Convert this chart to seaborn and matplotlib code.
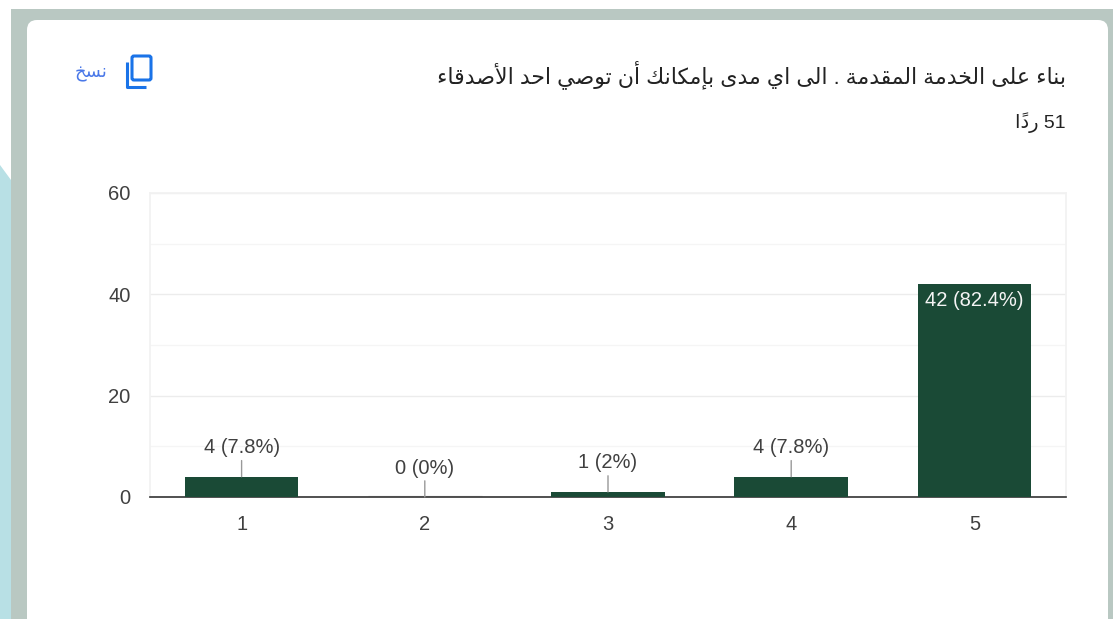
import matplotlib
matplotlib.use("Agg")
import matplotlib.pyplot as plt
from matplotlib.patches import FancyBboxPatch, Rectangle, Polygon
import seaborn as sns

# ======================
# data
# ======================
categories = ["1", "2", "3", "4", "5"]
counts = [4, 0, 1, 4, 42]
bar_labels = ["4 (7.8%)", "0 (0%)", "1 (2%)", "4 (7.8%)", "42 (82.4%)"]
major_ticks = [0, 20, 40, 60]
minor_ticks = [10, 30, 50]

title_text = "بناء على الخدمة المقدمة . الى اي مدى بإمكانك أن توصي احد الأصدقاء"
count_text = "51 ردًا"
copy_text = "نسخ"

# matplotlib has no arabic shaping, so pick the presentation forms by hand
# (isolated, final, initial, medial)
FORMS = {
    "ء": (0xFE80,), "أ": (0xFE83, 0xFE84), "إ": (0xFE87, 0xFE88), "ا": (0xFE8D, 0xFE8E),
    "ب": (0xFE8F, 0xFE90, 0xFE91, 0xFE92), "ة": (0xFE93, 0xFE94),
    "ت": (0xFE95, 0xFE96, 0xFE97, 0xFE98), "ح": (0xFEA1, 0xFEA2, 0xFEA3, 0xFEA4),
    "خ": (0xFEA5, 0xFEA6, 0xFEA7, 0xFEA8), "د": (0xFEA9, 0xFEAA), "ر": (0xFEAD, 0xFEAE),
    "س": (0xFEB1, 0xFEB2, 0xFEB3, 0xFEB4), "ص": (0xFEB9, 0xFEBA, 0xFEBB, 0xFEBC),
    "ع": (0xFEC9, 0xFECA, 0xFECB, 0xFECC), "ق": (0xFED5, 0xFED6, 0xFED7, 0xFED8),
    "ك": (0xFED9, 0xFEDA, 0xFEDB, 0xFEDC), "ل": (0xFEDD, 0xFEDE, 0xFEDF, 0xFEE0),
    "م": (0xFEE1, 0xFEE2, 0xFEE3, 0xFEE4), "ن": (0xFEE5, 0xFEE6, 0xFEE7, 0xFEE8),
    "و": (0xFEED, 0xFEEE), "ى": (0xFEEF, 0xFEF0), "ي": (0xFEF1, 0xFEF2, 0xFEF3, 0xFEF4),
}
LAM_ALEF = {"أ": (0xFEF7, 0xFEF8), "ا": (0xFEFB, 0xFEFC)}
TANWIN = "\u064b"


def shape_word(word):
    if not any(c in FORMS for c in word):
        return word
    letters = []  # (letter, marks)
    for c in word:
        if c == TANWIN:
            letters[-1][1] += c
        else:
            letters.append([c, ""])
    out = []
    i = 0
    joined = False
    while i < len(letters):
        c, mark = letters[i]
        nxt = letters[i + 1][0] if i + 1 < len(letters) else None
        if c == "ل" and nxt in LAM_ALEF:
            out.append(chr(LAM_ALEF[nxt][1 if joined else 0]))
            joined = False
            i += 2
            continue
        forms = FORMS[c]
        goes_on = len(forms) == 4 and nxt in FORMS
        if joined and goes_on:
            g = forms[3]
        elif goes_on:
            g = forms[2]
        elif joined and len(forms) > 1:
            g = forms[1]
        else:
            g = forms[0]
        out.append(mark + chr(g))
        joined = goes_on
        i += 1
    return "".join(out[::-1])


def rtl(text):
    return " ".join(shape_word(w) for w in text.split(" ")[::-1])


# ======================
# figure
# ======================
sns.set_theme(style="white")
plt.rcParams["font.family"] = ["Liberation Sans", "DejaVu Sans"]

W, H = 1113, 619
fig = plt.figure(figsize=(W / 100, H / 100), dpi=100, facecolor="white")

# page + card, in pixel coordinates
bg = fig.add_axes([0, 0, 1, 1])
bg.set_xlim(0, W)
bg.set_ylim(H, 0)
bg.axis("off")
bg.add_patch(Polygon([(0, 165), (11, 180), (11, H), (0, H)], color="#b8e0e5", lw=0))
bg.add_patch(Rectangle((11, 9), W - 11, H - 9, color="#b9c8c2", lw=0))
bg.add_patch(FancyBboxPatch((27, 20), 1081, 700, boxstyle="round,pad=0,rounding_size=10",
                            facecolor="white", edgecolor="none", zorder=2))

# copy icon
blue = "#1a73e8"
bg.add_patch(FancyBboxPatch((132, 56), 19, 24, boxstyle="round,pad=0,rounding_size=2",
                            facecolor="none", edgecolor=blue, linewidth=2.2, zorder=3))
bg.plot([126.5, 126.5, 146], [62, 87, 87], color=blue, lw=2.2, solid_capstyle="butt", zorder=3)
bg.text(107, 74, rtl(copy_text), color="#4a78e8", fontsize=13, ha="right", va="center", zorder=3)

bg.text(1066, 75, rtl(title_text), color="#222222", fontsize=15.8, ha="right", va="center", zorder=3)
bg.text(1066, 123, rtl(count_text), color="#222222", fontsize=14, ha="right", va="center", zorder=3)

# chart
ax = fig.add_axes([150 / W, 1 - 497 / H, 916 / W, 304 / H], facecolor="none")
ax.set_zorder(3)
sns.barplot(x=categories, y=counts, color="#1a4a36", saturation=1, width=0.62,
            linewidth=0, ax=ax, zorder=3)
ax.set_xlim(-0.5, 4.5)
ax.set_ylim(major_ticks[0], major_ticks[-1])
ax.set_yticks(major_ticks)
ax.set_yticks(minor_ticks, minor=True)
ax.set_xlabel("")
ax.set_ylabel("")
ax.grid(axis="y", which="major", color="#ececec", lw=1, zorder=0)
ax.grid(axis="y", which="minor", color="#f5f5f5", lw=1, zorder=0)
ax.tick_params(axis="both", which="both", length=0, labelsize=14.5, labelcolor="#404040")
ax.tick_params(axis="x", pad=13)
ax.tick_params(axis="y", pad=14)
for side in ["top", "left", "right"]:
    ax.spines[side].set_color("#f2f2f2")
ax.spines["bottom"].set_color("#333333")
ax.spines["bottom"].set_linewidth(1.2)

# the empty category still shows a faint line on the axis
ax.hlines(0.25, 1 - 0.31, 1 + 0.31, color="#dddddd", lw=1, zorder=2)

for i, (value, label) in enumerate(zip(counts, bar_labels)):
    if value > 20:
        ax.annotate(label, xy=(i, value), xytext=(0, -12), textcoords="offset points",
                    ha="center", va="center", color="#f4f4f4", fontsize=14.5, zorder=5)
    else:
        ax.annotate(label, xy=(i, value), xytext=(0, 14), textcoords="offset points",
                    ha="center", va="bottom", color="#404040", fontsize=14.5, zorder=5,
                    arrowprops=dict(arrowstyle="-", color="#999999", lw=1, shrinkA=0, shrinkB=0))

fig.savefig("out.png", dpi=100)
